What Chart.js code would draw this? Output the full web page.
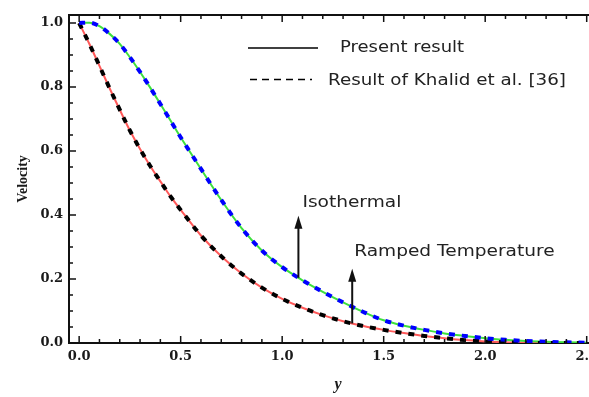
<!DOCTYPE html>
<html lang="en">
<head>
<meta charset="UTF-8">
<title>Velocity profiles</title>
<style>
  html, body { margin: 0; padding: 0; background: #fff; overflow: hidden; }
  .chart-box { position: relative; width: 607px; height: 397px; }
</style>
<script src="https://cdn.jsdelivr.net/npm/chart.js@4"></script>
</head>
<body>
<div class="chart-box"><canvas id="velocityChart"></canvas></div>
<script>
// distance y (x axis of the plot)
const yPos = [0, 0.05, 0.1, 0.15, 0.2, 0.25, 0.3, 0.35, 0.4, 0.45, 0.5, 0.6, 0.7, 0.8, 0.9, 1.0,
  1.1, 1.2, 1.3, 1.4, 1.5, 1.6, 1.7, 1.8, 1.9, 2.0, 2.1, 2.2, 2.3, 2.4, 2.5];
// velocity, isothermal case
const isothermal = [1.0, 1.001, 0.99, 0.966, 0.935, 0.893, 0.847, 0.798, 0.747, 0.695, 0.643, 0.544, 0.447, 0.359,
  0.289, 0.237, 0.196, 0.160, 0.127, 0.097, 0.071, 0.054, 0.041, 0.030, 0.022, 0.015, 0.010, 0.006, 0.004, 0.002, 0.001];
// velocity, ramped temperature case
const ramped = [1.0, 0.935, 0.866, 0.796, 0.729, 0.664, 0.606, 0.553, 0.505, 0.458, 0.416, 0.336, 0.271, 0.217,
  0.173, 0.138, 0.110, 0.087, 0.068, 0.053, 0.041, 0.031, 0.022, 0.015, 0.009, 0.005, 0.002, 0.001, 0, 0, 0];

const xTicks = [0, 0.5, 1.0, 1.5, 2.0, 2.5];
const yTicks = [0, 0.2, 0.4, 0.6, 0.8, 1.0];
const legendLabels = ['Present result', 'Result of Khalid et al. [36]'];
const curveLabels = ['Isothermal', 'Ramped Temperature'];
// arrows pointing at the curves: x, start on curve, tip
const arrowX = [1.08, 1.345];
const arrowFrom = [0.204, 0.061];
const arrowTo = [0.398, 0.232];

function toPoints(vals) {
  return yPos.map((v, i) => ({ x: v, y: vals[i] }));
}

function line(ctx, x1, y1, x2, y2) {
  ctx.beginPath();
  ctx.moveTo(x1, y1);
  ctx.lineTo(x2, y2);
  ctx.stroke();
}

// text is a bit wide in the original, stretch it horizontally
function wideText(ctx, text, x, y, size, sx) {
  ctx.save();
  ctx.font = size + 'px "DejaVu Sans"';
  ctx.textBaseline = 'alphabetic';
  ctx.textAlign = 'left';
  ctx.fillStyle = '#222';
  ctx.translate(x, y);
  ctx.scale(sx, 1);
  ctx.fillText(text, 0, 0);
  ctx.restore();
}

const framePlugin = {
  id: 'frame',
  afterDraw(chart) {
    const { ctx, chartArea: a, scales: { x, y } } = chart;
    ctx.save();
    ctx.strokeStyle = '#111';
    ctx.lineWidth = 2;
    line(ctx, a.left, a.top, a.right, a.top);

    // inward ticks
    ctx.lineWidth = 1.5;
    for (let i = 0; i <= 25; i++) {
      const px = x.getPixelForValue(i / 10);
      const len = i % 5 === 0 ? 7 : 4;
      line(ctx, px, a.bottom, px, a.bottom - len);
      line(ctx, px, a.top, px, a.top + len);
    }
    for (let i = 0; i <= 20; i++) {
      const py = y.getPixelForValue(i / 20);
      const len = i % 4 === 0 ? 7 : 4;
      line(ctx, a.left, py, a.left + len, py);
    }

    // arrows + curve names
    const dx = [4, 2], dy = [-9, -13];
    ctx.fillStyle = '#111';
    arrowX.forEach((v, i) => {
      const px = x.getPixelForValue(v);
      const y0 = y.getPixelForValue(arrowFrom[i]);
      const y1 = y.getPixelForValue(arrowTo[i]);
      ctx.lineWidth = 2;
      line(ctx, px, y0, px, y1 + 8);
      ctx.beginPath();
      ctx.moveTo(px, y1);
      ctx.lineTo(px - 4, y1 + 13);
      ctx.lineTo(px + 4, y1 + 13);
      ctx.closePath();
      ctx.fill();
      wideText(ctx, curveLabels[i], px + dx[i], y1 + dy[i], 16, 1.16);
    });

    // legend
    ctx.strokeStyle = '#000';
    ctx.lineWidth = 1.5;
    line(ctx, 248, 48, 318, 48);
    ctx.setLineDash([7, 5]);
    line(ctx, 250, 79.5, 312, 79.5);
    ctx.setLineDash([]);
    wideText(ctx, legendLabels[0], 340, 52, 15, 1.2);
    wideText(ctx, legendLabels[1], 328, 85, 15, 1.22);
    ctx.restore();
  }
};

const tickFont = { family: 'DejaVu Serif', weight: 'bold', size: 13 };

new Chart(document.getElementById('velocityChart'), {
  type: 'line',
  data: {
    datasets: [
      { data: toPoints(isothermal), borderColor: '#0000ff', borderWidth: 4, borderDash: [6, 7], order: 0 },
      { data: toPoints(ramped), borderColor: '#000000', borderWidth: 4, borderDash: [6, 7], order: 0 },
      { data: toPoints(isothermal), borderColor: '#3ee03e', borderWidth: 2, order: 1 },
      { data: toPoints(ramped), borderColor: '#ff5a5a', borderWidth: 2, order: 1 }
    ]
  },
  options: {
    responsive: true,
    maintainAspectRatio: false,
    animation: false,
    layout: { padding: { top: 15, right: 0, left: 0, bottom: 0 } },
    elements: {
      point: { radius: 0 },
      line: { cubicInterpolationMode: 'monotone', fill: false }
    },
    plugins: { legend: { display: false }, tooltip: { enabled: false } },
    scales: {
      x: {
        type: 'linear',
        min: -0.05,
        max: 2.6,
        afterBuildTicks: s => { s.ticks = xTicks.map(v => ({ value: v })); },
        afterFit: s => { s.height = 54; },
        grid: { display: false, drawTicks: false },
        border: { display: true, color: '#111', width: 2 },
        ticks: {
          color: '#1a1a1a', font: tickFont, padding: 6, maxRotation: 0,
          callback: v => v.toFixed(1)
        },
        title: {
          display: true, text: 'y', color: '#1a1a1a',
          font: { family: 'Liberation Serif', weight: 'bold', style: 'italic', size: 16 },
          padding: { top: 0, bottom: 3 }
        }
      },
      y: {
        type: 'linear',
        min: 0,
        max: 1.025,
        afterBuildTicks: s => { s.ticks = yTicks.map(v => ({ value: v })); },
        afterFit: s => { s.width = 69; },
        grid: { display: false, drawTicks: false },
        border: { display: true, color: '#111', width: 2 },
        ticks: {
          color: '#1a1a1a', font: tickFont, padding: 6,
          callback: v => v.toFixed(1)
        },
        title: {
          display: true, text: 'Velocity', color: '#1a1a1a',
          font: { family: 'Liberation Serif', weight: 'bold', size: 14 },
          padding: { top: 15, bottom: 0 }
        }
      }
    }
  },
  plugins: [framePlugin]
});
</script>
</body>
</html>
